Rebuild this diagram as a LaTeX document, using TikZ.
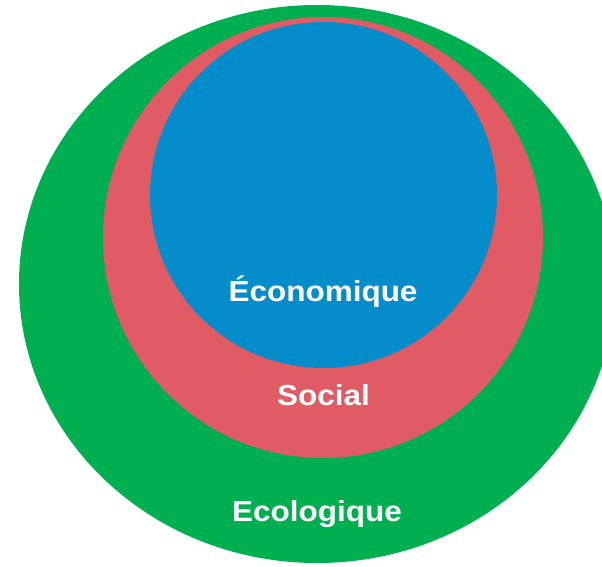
\documentclass[tikz,border=0pt]{standalone}
\usepackage{fontspec}
\setmainfont{Liberation Sans}
\definecolor{ecogreen}{HTML}{00B050}
\definecolor{socred}{HTML}{E15B64}
\definecolor{econblue}{HTML}{058CCB}
\tikzset{label text/.style={text=white,anchor=base,inner sep=0pt,
    font=\fontsize{29}{34}\selectfont\bfseries}}
\newcommand{\wide}[1]{\scalebox{1.09}[1]{#1}}

\begin{document}
\begin{tikzpicture}[x=1bp,y=-1bp]%
    \useasboundingbox (0,0) rectangle (602,567);
    \clip (0,0) rectangle (602,567);
    \foreach \col/\cx/\cy/\rx/\ry in {ecogreen/317/284/298/279,
        socred/323/237.5/220/220.5, econblue/323.5/195/173.5/173}
        \fill[\col] (\cx,\cy) ellipse [x radius=\rx, y radius=\ry];
    \node[label text] (econ) at (323,301) {\wide{Économique}};
    \node[label text] (soc) at (323.5,405) {\wide{Social}};
    \node[label text] (eco) at (317,521) {\wide{Ecologique}};
\end{tikzpicture}
\end{document}
